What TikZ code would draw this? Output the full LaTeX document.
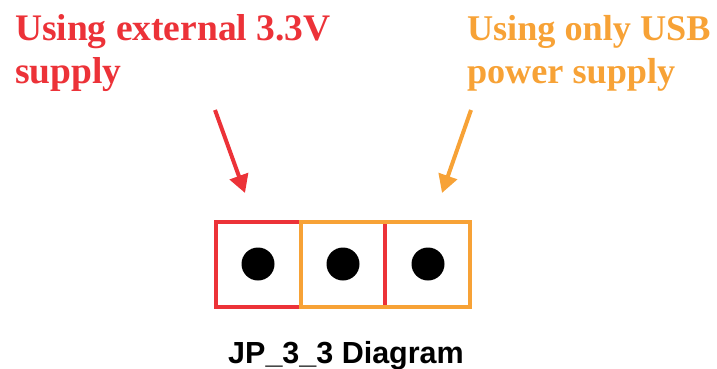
\documentclass[tikz,border=0pt]{standalone}
\usepackage{fontspec}
\setmainfont{Liberation Serif}
\newfontfamily\labelfont{Liberation Sans}
\usetikzlibrary{arrows.meta}
\definecolor{jred}{RGB}{236,50,56}
\definecolor{jorange}{RGB}{247,162,54}
\tikzset{
  caption/.style={inner sep=0pt, outer sep=0pt, anchor=base west, font=\fontsize{37.5}{43}\selectfont\bfseries},
  smallcaption/.style={caption, font=\fontsize{36.2}{43}\selectfont\bfseries},
  jumper/.style={draw, line width=3.6pt, rectangle, minimum width=169pt, minimum height=85pt, inner sep=0pt, outer sep=0pt},
  pin/.style={circle, fill=black, minimum size=33pt, inner sep=0pt},
  pointer/.style={line width=4pt, -{Triangle[length=18pt,width=19pt]}},
}
\begin{document}
\begin{tikzpicture}[x=1pt,y=-1pt]
\useasboundingbox (0,0) rectangle (717,369);
% captions
\node[caption, text=jred] (ra) at (15,41) {Using external 3.3V};
\node[caption, text=jred] (rb) at (15,84) {supply};
\node[smallcaption, text=jorange] (oa) at (467,41) {Using only USB};
\node[smallcaption, text=jorange] (ob) at (467,84) {power supply};
% jumper outlines
\node[jumper, jred] (jr) at (300.5,264.5) {};
\node[jumper, jorange] (jo) at (385.5,264.5) {};
% pins
\node[pin] (p1) at (258,264) {};
\node[pin] (p2) at (343,264) {};
\node[pin] (p3) at (428,264) {};
% arrows
\coordinate (rs) at (215,110);
\coordinate (re) at (245,193);
\coordinate (os) at (471,110);
\coordinate (oe) at (442,193);
\draw[pointer, jred] (rs) -- (re);
\draw[pointer, jorange] (os) -- (oe);
% label
\node[inner sep=0pt, anchor=base west, font=\labelfont\fontsize{30.5}{34}\selectfont\bfseries] (lbl) at (228,363) {JP\_3\_3 Diagram};
\end{tikzpicture}
\end{document}
